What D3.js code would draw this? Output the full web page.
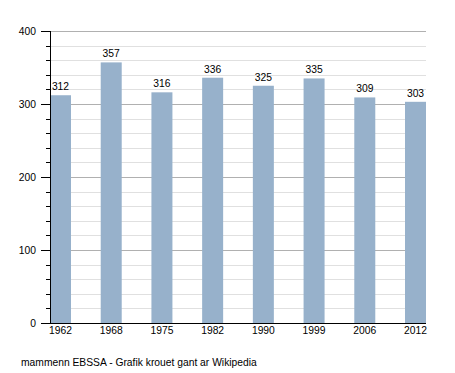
<!DOCTYPE html>
<html>
<head>
<meta charset="utf-8">
<script src="https://cdn.jsdelivr.net/npm/d3@7"></script>
<style>
body { margin: 0; background: #fff; }
text { font-family: "Liberation Sans", Arial, sans-serif; }
</style>
</head>
<body>
<div id="chart"></div>
<script>
// data
var years = ["1962", "1968", "1975", "1982", "1990", "1999", "2006", "2012"];
var population = [312, 357, 316, 336, 325, 335, 309, 303];
var yTicks = [0, 100, 200, 300, 400];
var footer = "mammenn EBSSA - Grafik krouet gant ar Wikipedia";

var W = 455, H = 373;
var fs = 10.3;
var margin = {top: 31, right: 29, bottom: 50, left: 50},
    width = W - margin.left - margin.right,
    height = H - margin.top - margin.bottom;

var svg = d3.select("#chart")
  .append("svg")
  .attr("width", W)
  .attr("height", H)
  .append("g")
  .attr("transform", "translate(" + margin.left + "," + margin.top + ")");

var x = d3.scaleBand()
  .domain(years)
  .range([0, width])
  .paddingInner(0.586)
  .paddingOuter(0);

var y = d3.scaleLinear()
  .domain([0, 400])
  .range([height, 0]);

var minor = d3.range(20, 400, 20).filter(function(d) { return d % 100 != 0; });

// grid secundaria cada 20
svg.append("g")
  .selectAll("line")
  .data(minor)
  .enter()
  .append("line")
  .attr("x1", 0).attr("x2", width)
  .attr("y1", function(d) { return Math.round(y(d)) + 0.5; })
  .attr("y2", function(d) { return Math.round(y(d)) + 0.5; })
  .attr("stroke", "#e0e0e0");

// grid principal
svg.append("g")
  .selectAll("line")
  .data(yTicks.slice(1))
  .enter()
  .append("line")
  .attr("x1", 0).attr("x2", width)
  .attr("y1", function(d) { return Math.round(y(d)) + 0.5; })
  .attr("y2", function(d) { return Math.round(y(d)) + 0.5; })
  .attr("stroke", "#b0b0b0");

// barras
svg.selectAll("rect.bar")
  .data(population)
  .enter()
  .append("rect")
  .attr("class", "bar")
  .attr("x", function(d, i) { return x(years[i]); })
  .attr("y", function(d) { return y(d); })
  .attr("width", x.bandwidth())
  .attr("height", function(d) { return height - y(d); })
  .attr("fill", "#97b1cb");

// etiquetas de valor
svg.selectAll("text.val")
  .data(population)
  .enter()
  .append("text")
  .attr("class", "val")
  .attr("x", function(d, i) { return x(years[i]) + x.bandwidth() / 2; })
  .attr("y", function(d) { return y(d) - 5; })
  .attr("text-anchor", "middle")
  .attr("font-size", fs)
  .attr("fill", "#000")
  .text(function(d) { return d; });

// eje Y
var yAxis = svg.append("g")
  .call(d3.axisLeft(y).tickValues(yTicks).tickSize(9).tickPadding(5));
yAxis.select(".domain").remove();
yAxis.selectAll("line").attr("stroke", "#000");
yAxis.selectAll("text").attr("font-size", fs).attr("fill", "#000")
  .attr("font-family", "Liberation Sans, Arial, sans-serif");

svg.append("g")
  .selectAll("line")
  .data(minor)
  .enter()
  .append("line")
  .attr("x1", -4).attr("x2", 0)
  .attr("y1", function(d) { return Math.round(y(d)) + 0.5; })
  .attr("y2", function(d) { return Math.round(y(d)) + 0.5; })
  .attr("stroke", "#000");

svg.append("line")
  .attr("x1", 0.5).attr("x2", 0.5)
  .attr("y1", 0).attr("y2", height)
  .attr("stroke", "#000");

// eje X
svg.append("line")
  .attr("x1", -5).attr("x2", width)
  .attr("y1", height + 0.5).attr("y2", height + 0.5)
  .attr("stroke", "#000");

var xAxis = svg.append("g")
  .attr("transform", "translate(0," + height + ")")
  .call(d3.axisBottom(x).tickSize(0).tickPadding(4));
xAxis.select(".domain").remove();
xAxis.selectAll("text").attr("font-size", fs).attr("fill", "#000")
  .attr("font-family", "Liberation Sans, Arial, sans-serif");

// pie
d3.select("svg").append("text")
  .attr("x", 21)
  .attr("y", 366)
  .attr("font-size", fs)
  .attr("fill", "#000")
  .text(footer);
</script>
</body>
</html>
